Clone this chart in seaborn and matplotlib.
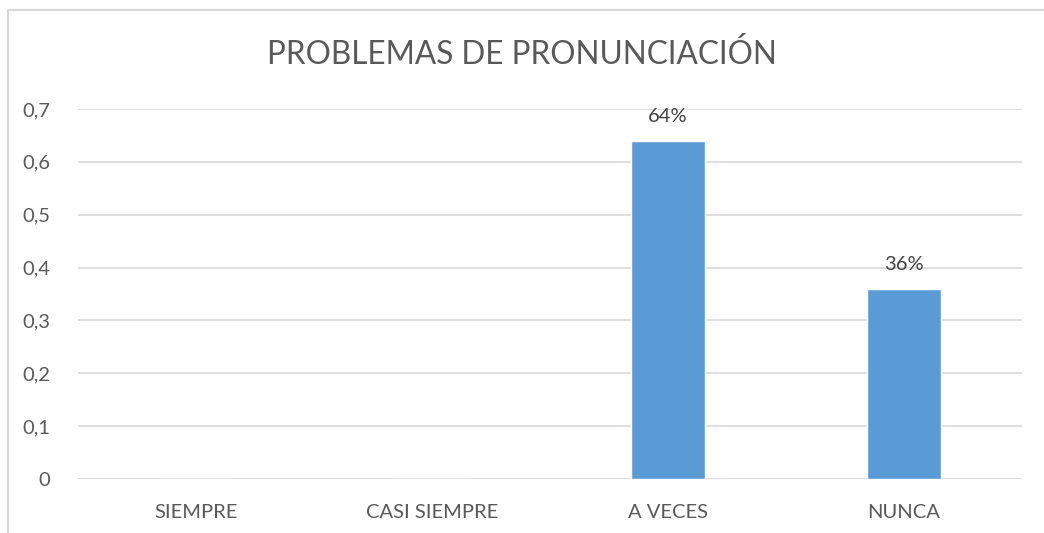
import matplotlib
matplotlib.use("Agg")
import matplotlib.pyplot as plt
import seaborn as sns
import pandas as pd
from matplotlib.patches import Rectangle

categorias = ["SIEMPRE", "CASI SIEMPRE", "A VECES", "NUNCA"]
valores = [0, 0, 0.64, 0.36]
etiquetas = ["", "", "64%", "36%"]
yticks = [0, 0.1, 0.2, 0.3, 0.4, 0.5, 0.6, 0.7]
yticklabels = ["0", "0,1", "0,2", "0,3", "0,4", "0,5", "0,6", "0,7"]

df = pd.DataFrame({"categoria": categorias, "valor": valores})

sns.set_style("white")
plt.rcParams["font.family"] = ["Lato", "DejaVu Sans"]
gris = "#595959"

fig = plt.figure(figsize=(10.44, 5.33), dpi=100)
ax = fig.add_axes([78 / 1044, 54 / 533, 944 / 1044, 370 / 533])

sns.barplot(data=df, x="categoria", y="valor", color="#5B9BD5", width=0.31,
            saturation=1, ax=ax, zorder=3)

ax.set_ylim(0, 0.7)
ax.set_yticks(yticks)
ax.set_yticklabels(yticklabels)
ax.grid(axis="y", color="#d9d9d9", linewidth=1.2, zorder=0)
for s in ax.spines.values():
    s.set_visible(False)
ax.tick_params(axis="both", length=0, labelsize=14.5, colors=gris)
ax.tick_params(axis="y", pad=20)
ax.tick_params(axis="x", pad=18)
ax.set_xlabel("")
ax.set_ylabel("")

for p, lab in zip(ax.patches, etiquetas):
    if lab:
        ax.annotate(lab, (p.get_x() + p.get_width() / 2, p.get_height()),
                    xytext=(0, 11), textcoords="offset points",
                    ha="center", va="bottom", fontsize=14.5, color="#404040")

fig.text(0.5, 1 - 54 / 533, "PROBLEMAS DE PRONUNCIACIÓN", ha="center",
         va="center", fontsize=22.7, color=gris)

fig.patches.append(Rectangle((8 / 1044, -0.1), 1.2, 1 - 10 / 533 + 0.1,
                             transform=fig.transFigure, fill=False,
                             edgecolor="#d9d9d9", linewidth=1.5))

fig.savefig("out.png", dpi=100)
